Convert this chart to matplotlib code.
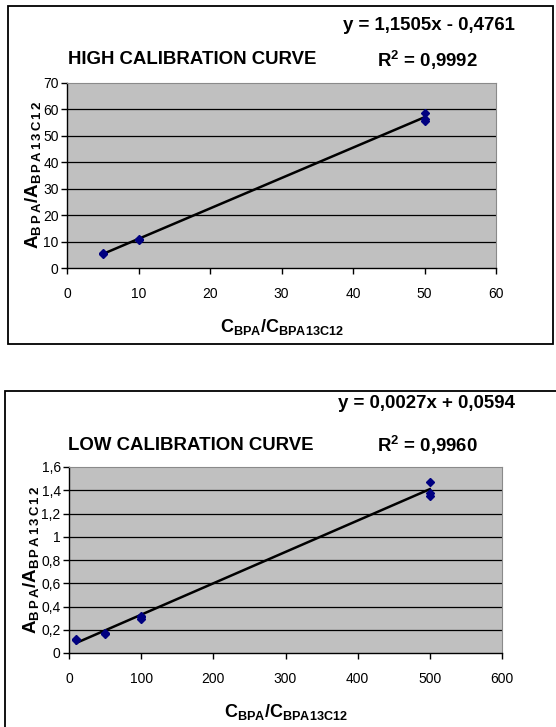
import matplotlib
matplotlib.use('Agg')
import matplotlib.pyplot as plt
from matplotlib.patches import Rectangle
import numpy as np

plt.rcParams['font.family'] = ['Liberation Sans', 'DejaVu Sans']
plt.rcParams['mathtext.fontset'] = 'custom'
plt.rcParams['mathtext.rm'] = 'Liberation Sans'
plt.rcParams['mathtext.bf'] = 'Liberation Sans:bold'

# high range standards
high_x = [5, 5, 10, 10, 50, 50, 50]
high_y = [5.6, 5.3, 10.8, 10.5, 58.7, 56.3, 55.8]
high_slope, high_icpt, high_r2 = 1.1505, -0.4761, 0.9992
high_xticks = [0, 10, 20, 30, 40, 50, 60]
high_yticks = [0, 10, 20, 30, 40, 50, 60, 70]

# low range standards
low_x = [10, 10, 50, 50, 100, 100, 100, 500, 500, 500]
low_y = [0.12, 0.11, 0.17, 0.16, 0.31, 0.29, 0.32, 1.47, 1.38, 1.35]
low_slope, low_icpt, low_r2 = 0.0027, 0.0594, 0.9960
low_xticks = [0, 100, 200, 300, 400, 500, 600]
low_yticks = [0, 0.2, 0.4, 0.6, 0.8, 1.0, 1.2, 1.4, 1.6]

W, H = 556, 727
fig = plt.figure(figsize=(W / 100, H / 100), dpi=100)

XLABEL = r'$\mathbf{C_{BPA}/C_{BPA13C12}}$'
# y label subscripts are letter-spaced
YLABEL = r'$\mathbf{A_{B\,P\,A}/A_{B\,P\,A\,1\,3\,C\,1\,2}}$'


def px_axes(l, t, r, b):
    return fig.add_axes([l / W, (H - b) / H, (r - l) / W, (b - t) / H])


def comma(v):
    s = ('%g' % v)
    return s.replace('.', ',')


def panel(box, area, title, xs, ys, slope, icpt, r2, xticks, yticks, eq, title_y, eq_y, r2_x):
    l, t, r, b = box
    fig.patches.append(Rectangle((l / W, (H - b) / H), (r - l) / W, (b - t) / H,
                                 transform=fig.transFigure, fill=False,
                                 edgecolor='black', linewidth=1.3))
    ax = px_axes(*area)
    ax.set_facecolor('#c0c0c0')
    ax.set_xlim(xticks[0], xticks[-1])
    ax.set_ylim(yticks[0], yticks[-1])
    ax.set_xticks(xticks)
    ax.set_yticks(yticks)
    ax.set_xticklabels([comma(v) for v in xticks])
    ax.set_yticklabels([comma(v) for v in yticks])
    ax.tick_params(labelsize=10, direction='out', length=4, width=1, pad=2)
    ax.tick_params(axis='x', pad=10)
    for yt in yticks[1:-1]:
        ax.axhline(yt, color='black', linewidth=0.9, zorder=1)
    for s in ['top', 'right']:
        ax.spines[s].set_color('#8a8a8a')
        ax.spines[s].set_linewidth(0.8)
    for s in ['left', 'bottom']:
        ax.spines[s].set_linewidth(1.0)
    fx = np.array([min(xs), max(xs)])
    ax.plot(fx, slope * fx + icpt, color='black', linewidth=1.8, zorder=3)
    ax.plot(xs, ys, linestyle='none', marker='D', markersize=4,
            color='#000080', zorder=4)
    ax.set_xlabel(XLABEL, fontsize=13, labelpad=11)
    ax.set_ylabel(YLABEL, fontsize=13.5, labelpad=0)
    fig.text(68 / W, 1 - title_y / H, title, fontsize=13.4, fontweight='bold',
             va='center', ha='left')
    fig.text(515 / W, 1 - eq_y / H, eq, fontsize=13.4, fontweight='bold',
             va='center', ha='right')
    fig.text(r2_x / W, 1 - title_y / H,
             r'R$^\mathbf{2}$ = ' + ('%.4f' % r2).replace('.', ','),
             fontsize=13.4, fontweight='bold', va='center', ha='right')
    return ax


panel((8, 6, 553, 344), (67, 83, 496, 268), 'HIGH CALIBRATION CURVE',
      high_x, high_y, high_slope, high_icpt, high_r2, high_xticks, high_yticks,
      'y = 1,1505x - 0,4761', 60, 25, 478)
panel((5, 391, 560, 740), (69, 467, 502, 653), 'LOW CALIBRATION CURVE',
      low_x, low_y, low_slope, low_icpt, low_r2, low_xticks, low_yticks,
      'y = 0,0027x + 0,0594', 445, 403, 478)

fig.savefig('out.png', dpi=100)
